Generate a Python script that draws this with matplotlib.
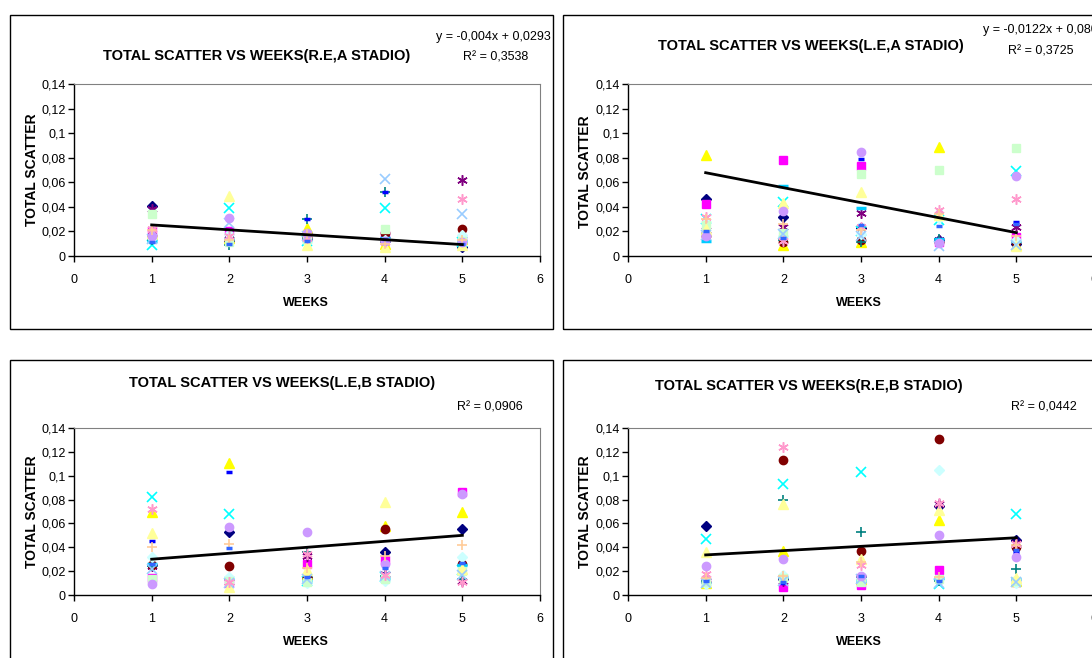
import numpy as np
import matplotlib
matplotlib.use("Agg")
import matplotlib.pyplot as plt
from matplotlib.patches import Rectangle

plt.rcParams['font.family'] = ['Liberation Sans Narrow', 'Liberation Sans', 'DejaVu Sans']

W, H = 1092, 658

weeks = [1, 2, 3, 4, 5]
y_ticks = [0, 0.02, 0.04, 0.06, 0.08, 0.1, 0.12, 0.14]
y_tick_labels = ["0", "0,02", "0,04", "0,06", "0,08", "0,1", "0,12", "0,14"]

# one row per subject (Excel default series order), one column per week
re_a = [
    [0.041, 0.012, 0.014, 0.012, 0.007],
    [0.020, 0.020, 0.016, 0.017, 0.013],
    [0.018, 0.015, 0.023, 0.010, 0.014],
    [0.009, 0.039, 0.012, 0.039, 0.011],
    [0.038, 0.014, 0.017, 0.014, 0.062],
    [0.016, 0.013, 0.015, 0.019, 0.022],
    [0.013, 0.009, 0.030, 0.052, 0.010],
    [0.013, 0.012, 0.030, 0.052, 0.008],
    [0.012, 0.014, 0.013, 0.015, 0.012],
    [0.015, 0.018, 0.011, 0.013, 0.017],
    [0.034, 0.011, 0.014, 0.022, 0.012],
    [0.019, 0.049, 0.009, 0.007, 0.009],
    [0.014, 0.027, 0.016, 0.063, 0.034],
    [0.022, 0.016, 0.015, 0.011, 0.046],
    [0.016, 0.031, 0.019, 0.012, 0.011],
    [0.021, 0.013, 0.018, 0.010, 0.013],
    [0.011, 0.010, 0.012, 0.014, 0.010],
]
le_a = [
    [0.046, 0.0315, 0.023, 0.013, 0.010],
    [0.042, 0.078, 0.0735, 0.011, 0.0157],
    [0.082, 0.009, 0.011, 0.089, 0.009],
    [0.030, 0.044, 0.020, 0.029, 0.069],
    [0.021, 0.024, 0.035, 0.013, 0.024],
    [0.016, 0.011, 0.013, 0.011, 0.011],
    [0.018, 0.013, 0.011, 0.014, 0.012],
    [0.019, 0.020, 0.079, 0.036, 0.028],
    [0.012, 0.057, 0.039, 0.014, 0.012],
    [0.028, 0.016, 0.018, 0.031, 0.013],
    [0.025, 0.019, 0.067, 0.070, 0.0876],
    [0.022, 0.043, 0.052, 0.033, 0.008],
    [0.017, 0.018, 0.016, 0.008, 0.009],
    [0.032, 0.012, 0.024, 0.0375, 0.046],
    [0.016, 0.037, 0.085, 0.0105, 0.065],
    [0.030, 0.026, 0.021, 0.034, 0.016],
    [0.020, 0.015, 0.025, 0.0245, 0.026],
]
le_b = [
    [0.025, 0.053, 0.015, 0.036, 0.055],
    [0.014, 0.010, 0.026, 0.029, 0.086],
    [0.070, 0.111, 0.018, 0.058, 0.070],
    [0.082, 0.068, 0.012, 0.015, 0.021],
    [0.024, 0.011, 0.033, 0.018, 0.012],
    [0.025, 0.024, 0.014, 0.055, 0.026],
    [0.024, 0.013, 0.036, 0.016, 0.013],
    [0.045, 0.103, 0.014, 0.018, 0.027],
    [0.026, 0.014, 0.012, 0.014, 0.025],
    [0.032, 0.015, 0.010, 0.012, 0.032],
    [0.013, 0.012, 0.011, 0.013, 0.020],
    [0.052, 0.007, 0.021, 0.078, 0.022],
    [0.022, 0.010, 0.013, 0.016, 0.017],
    [0.072, 0.011, 0.034, 0.017, 0.011],
    [0.009, 0.057, 0.053, 0.026, 0.085],
    [0.040, 0.043, 0.023, 0.033, 0.042],
    [0.026, 0.039, 0.015, 0.023, 0.027],
]
re_b = [
    [0.058, 0.013, 0.015, 0.075, 0.046],
    [0.012, 0.007, 0.008, 0.021, 0.011],
    [0.010, 0.037, 0.013, 0.063, 0.012],
    [0.047, 0.093, 0.103, 0.009, 0.068],
    [0.012, 0.012, 0.015, 0.076, 0.044],
    [0.011, 0.113, 0.037, 0.131, 0.040],
    [0.012, 0.080, 0.053, 0.012, 0.022],
    [0.013, 0.010, 0.017, 0.011, 0.036],
    [0.010, 0.015, 0.012, 0.014, 0.013],
    [0.009, 0.017, 0.014, 0.105, 0.010],
    [0.011, 0.014, 0.011, 0.013, 0.012],
    [0.036, 0.076, 0.030, 0.071, 0.014],
    [0.010, 0.012, 0.013, 0.010, 0.011],
    [0.018, 0.124, 0.025, 0.077, 0.043],
    [0.024, 0.030, 0.016, 0.050, 0.032],
    [0.014, 0.016, 0.028, 0.015, 0.042],
    [0.012, 0.011, 0.016, 0.012, 0.038],
]

titles = ["TOTAL SCATTER VS WEEKS(R.E,A STADIO)", "TOTAL SCATTER VS WEEKS(L.E,A STADIO)",
          "TOTAL SCATTER VS WEEKS(L.E,B STADIO)", "TOTAL SCATTER VS WEEKS(R.E,B STADIO)"]
# trendline slope / intercept
trend_slope = [-0.004, -0.0122, 0.005, 0.0036]
trend_icpt = [0.0293, 0.080, 0.025, 0.030]
eq_text = ["y = -0,004x + 0,0293", "y = -0,0122x + 0,080", None, None]
r2_text = ["R² = 0,3538", "R² = 0,3725", "R² = 0,0906", "R² = 0,0442"]

# excel 2003 default series colours / markers
colors = ["#000080", "#FF00FF", "#FFFF00", "#00FFFF", "#800080", "#800000", "#008080",
          "#0000FF", "#00CCFF", "#CCFFFF", "#CCFFCC", "#FFFF99", "#99CCFF", "#FF99CC",
          "#CC99FF", "#FFCC99", "#3366FF"]
mk = [("D", 5, 1), ("s", 5.5, 1), ("^", 6.5, 1), ("x", 6.5, 1.2), ((6, 2, 0), 7.5, 1.1),
      ("o", 6, 1), ("+", 7.5, 1.2), ("_", 4, 2.5), ("_", 7, 2.5)]


def fx(x):
    return x / W


def fy(y):
    return 1 - y / H


fig = plt.figure(figsize=(W / 100, H / 100), dpi=100)

# panel layout in pixels: box, axes left/top/bottom, title, equation, r2, label centres
panels = [
    dict(data=re_a, box=(10, 15, 543, 314), ax=(74, 84, 256), title=(257, 56),
         eq=(551, 37, "right"), r2=(496, 58), ylab=(32, 170), xlab=(306, 303)),
    dict(data=le_a, box=(563, 15, 543, 314), ax=(628, 84, 256), title=(811, 46),
         eq=(983, 30, "left"), r2=(1041, 52), ylab=(585, 172), xlab=(859, 303)),
    dict(data=le_b, box=(10, 360, 543, 314), ax=(74, 428, 595), title=(282, 383),
         eq=None, r2=(490, 408), ylab=(32, 512), xlab=(306, 642)),
    dict(data=re_b, box=(563, 360, 543, 314), ax=(628, 428, 595), title=(809, 386),
         eq=None, r2=(1044, 408), ylab=(585, 512), xlab=(859, 642)),
]

for i, p in enumerate(panels):
    bx, by, bw, bh = p["box"]
    fig.add_artist(Rectangle((fx(bx), fy(by + bh)), bw / W, bh / H, transform=fig.transFigure,
                             fill=False, ec="black", lw=1.0))
    left, top, bottom = p["ax"]
    ax = fig.add_axes([fx(left), fy(bottom), 466 / W, (bottom - top) / H])

    vals = np.array(p["data"])
    for k, row in enumerate(vals):
        m, ms, mew = mk[k % len(mk)]
        c = colors[k]
        ax.plot(weeks, row, ls="none", marker=m, ms=ms, mew=mew, mfc=c, mec=c, zorder=2)

    xs = np.array([1, 5])
    ax.plot(xs, trend_slope[i] * xs + trend_icpt[i], color="black", lw=2, zorder=3)

    ax.set_xlim(0, 6)
    ax.set_ylim(0, 0.14)
    ax.set_xticks(range(7))
    ax.set_yticks(y_ticks)
    ax.set_yticklabels(y_tick_labels)
    ax.tick_params(axis="both", direction="out", length=4, width=1, labelsize=9,
                   colors="black")
    ax.tick_params(axis="x", pad=9)
    ax.tick_params(axis="y", pad=2)
    for s in ("top", "right"):
        ax.spines[s].set_color("#808080")
        ax.spines[s].set_linewidth(0.8)
    for s in ("left", "bottom"):
        ax.spines[s].set_color("black")
        ax.spines[s].set_linewidth(1.0)

    tx, ty = p["title"]
    fig.text(fx(tx), fy(ty), titles[i], ha="center", va="center", fontsize=10.5,
             fontweight="bold")
    if p["eq"] is not None:
        ex, ey, ha = p["eq"]
        fig.text(fx(ex), fy(ey), eq_text[i], ha=ha, va="center", fontsize=9)
    rx, ry = p["r2"]
    fig.text(fx(rx), fy(ry), r2_text[i], ha="center", va="center", fontsize=9)
    lx, ly = p["ylab"]
    fig.text(fx(lx), fy(ly), "TOTAL SCATTER", ha="center", va="center", rotation=90,
             fontsize=10, fontweight="bold", family=["Liberation Sans", "DejaVu Sans"])
    wx, wy = p["xlab"]
    fig.text(fx(wx), fy(wy), "WEEKS", ha="center", va="center", fontsize=9,
             fontweight="bold")

fig.savefig("out.png", dpi=100)
